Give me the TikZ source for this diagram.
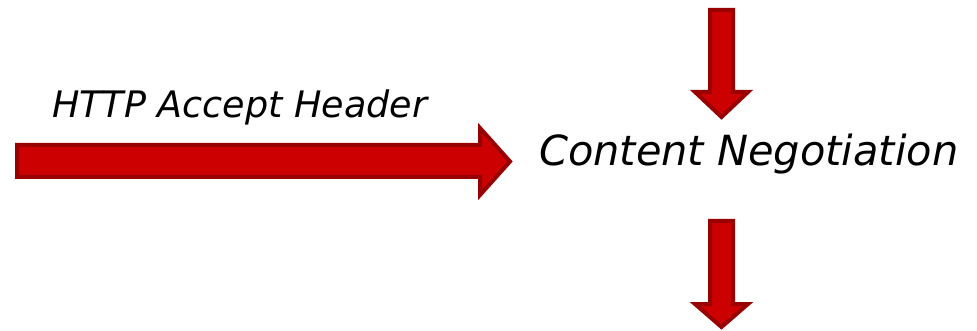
\documentclass[tikz,border=0pt]{standalone}
\usepackage{fontspec}
\setmainfont{DejaVu Sans}
\usetikzlibrary{positioning}
\definecolor{R}{RGB}{204, 0, 0}
\definecolor{DR}{RGB}{153, 0, 0}
\tikzset{
  bigarrow/.style={fill=R, draw=DR, line width=4pt, line join=miter},
  label/.style={anchor=base west, inner sep=0pt, font=\itshape}
}

\begin{document}
\begin{tikzpicture}[x=1pt, y=-1pt]
   	\useasboundingbox (0,0) rectangle (977,331);

	%Flecha horizontal (cabecera)
   	\draw[bigarrow] (17,145) -- (480,145) -- (480,128) -- (510,161.5)
   		-- (480,195) -- (480,177) -- (17,177) -- cycle;
   	\node[label, font=\itshape\fontsize{36.5}{36.5}\selectfont] (header) at (52,118) {HTTP Accept Header};

	%Flecha superior
   	\draw[bigarrow] (710,10) -- (733,10) -- (733,92) -- (748,92) -- (721.5,117)
   		-- (695,92) -- (710,92) -- cycle;

	%Texto central
   	\node[label, font=\itshape\fontsize{41.5}{41.5}\selectfont] (negotiation) at (539,166) {Content Negotiation};

	%Flecha inferior
   	\draw[bigarrow] (710,221) -- (733,221) -- (733,304) -- (748,304) -- (721.5,327)
   		-- (695,304) -- (710,304) -- cycle;
\end{tikzpicture}
\end{document}
